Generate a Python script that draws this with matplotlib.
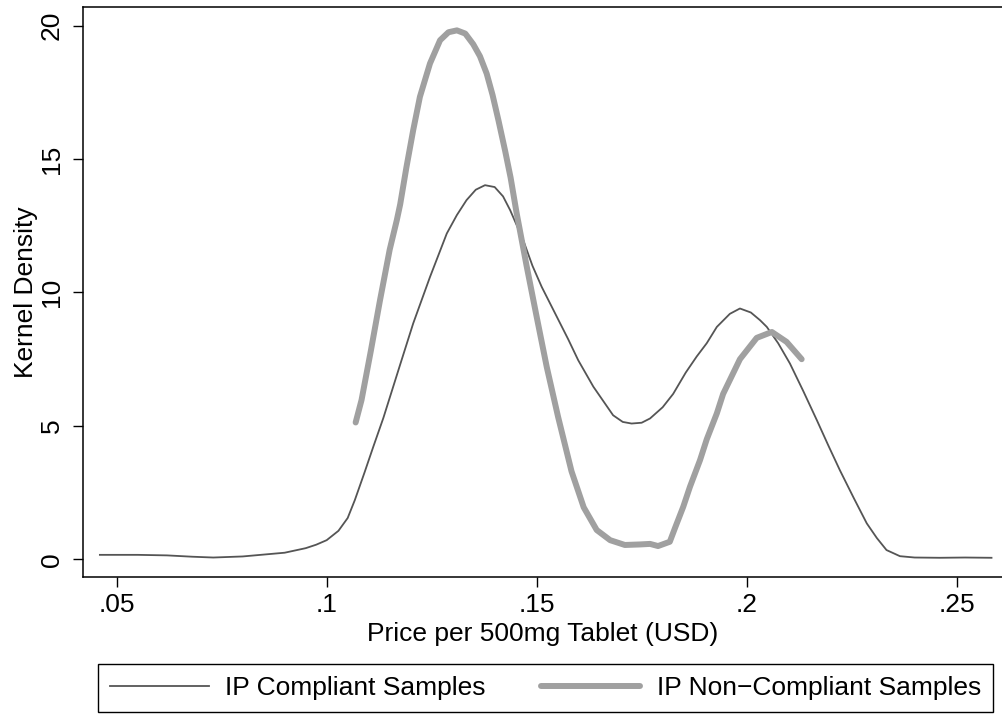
import numpy as np
import matplotlib
matplotlib.use('Agg')
import matplotlib.pyplot as plt

plt.rcParams['font.family'] = ['Liberation Sans', 'DejaVu Sans']
plt.rcParams['font.size'] = 19

# kernel density, IP compliant samples
comp_x = [0.046, 0.055, 0.062, 0.068, 0.073, 0.080, 0.0857, 0.090, 0.095, 0.0975,
          0.100, 0.1028, 0.1050, 0.1067, 0.1090, 0.1111, 0.1135, 0.1159, 0.1175, 0.1206,
          0.1246, 0.1286, 0.1310, 0.1333, 0.1355, 0.1377, 0.1400, 0.1420, 0.1437, 0.1468,
          0.1490, 0.1512, 0.1548, 0.1575, 0.1599, 0.1635, 0.1682, 0.1705, 0.1726, 0.1750,
          0.1770, 0.1800, 0.1825, 0.1855, 0.1881, 0.1905, 0.1929, 0.1960, 0.1984, 0.2010,
          0.2032, 0.2048, 0.2075, 0.2103, 0.2135, 0.2167, 0.2195, 0.2222, 0.2255, 0.2286,
          0.2310, 0.2333, 0.2365, 0.2400, 0.2460, 0.2520, 0.2583]
comp_y = [0.17, 0.17, 0.15, 0.10, 0.07, 0.11, 0.19, 0.25, 0.42, 0.55,
          0.72, 1.07, 1.55, 2.22, 3.25, 4.22, 5.3, 6.5, 7.3, 8.84,
          10.58, 12.21, 12.9, 13.46, 13.85, 14.02, 13.95, 13.6, 13.08, 11.96,
          11.0, 10.21, 9.09, 8.25, 7.46, 6.47, 5.40, 5.15, 5.09, 5.12,
          5.28, 5.7, 6.2, 7.0, 7.6, 8.1, 8.71, 9.2, 9.40, 9.25,
          8.96, 8.71, 8.1, 7.34, 6.3, 5.22, 4.25, 3.34, 2.3, 1.35,
          0.8, 0.35, 0.12, 0.07, 0.06, 0.07, 0.06]

# kernel density, IP non-compliant samples
noncomp_x = [0.1069, 0.1083, 0.1105, 0.1127, 0.1150, 0.1167, 0.1175, 0.1190, 0.1206, 0.1222,
             0.1246, 0.1270, 0.1290, 0.1310, 0.1330, 0.1349, 0.1365, 0.1381, 0.1395, 0.1409,
             0.1425, 0.1438, 0.1452, 0.1476, 0.1500, 0.1524, 0.1551, 0.1583, 0.1612, 0.1643,
             0.1675, 0.1710, 0.1746, 0.1770, 0.1789, 0.1817, 0.1830, 0.1849, 0.1865, 0.1889,
             0.1905, 0.1929, 0.1944, 0.1984, 0.2024, 0.2060, 0.2095, 0.2131]
noncomp_y = [5.13, 5.97, 7.8, 9.71, 11.6, 12.71, 13.3, 14.7, 16.08, 17.33,
             18.58, 19.45, 19.75, 19.82, 19.7, 19.3, 18.85, 18.2, 17.4, 16.45,
             15.3, 14.3, 13.0, 11.0, 9.09, 7.21, 5.34, 3.3, 1.95, 1.10,
             0.72, 0.54, 0.56, 0.58, 0.50, 0.66, 1.2, 1.97, 2.72, 3.72,
             4.5, 5.47, 6.2, 7.5, 8.3, 8.52, 8.15, 7.5]

xticks = [0.05, 0.10, 0.15, 0.20, 0.25]
xtick_labels = ['.05', '.1', '.15', '.2', '.25']
yticks = [0, 5, 10, 15, 20]

fig = plt.figure(figsize=(10.02, 7.15), dpi=100)
ax = fig.add_axes([0.0825, 0.193, 0.9175, 0.797])

ax.plot(comp_x, comp_y, color='#555555', lw=1.3, label='IP Compliant Samples')
ax.plot(noncomp_x, noncomp_y, color='#a0a0a0', lw=4.3, solid_capstyle='round',
        solid_joinstyle='round', label='IP Non\u2212Compliant Samples')

ax.set_xlim(0.0419, 0.2608)
ax.set_ylim(-0.66, 20.69)
ax.set_xticks(xticks)
ax.set_xticklabels(xtick_labels)
ax.set_yticks(yticks)
ax.tick_params(direction='out', length=7.2, width=1.0, color='black')
ax.tick_params(axis='x', pad=4)
ax.tick_params(axis='y', labelrotation=90, pad=6.5)
for lab in ax.get_yticklabels():
    lab.set_va('center')

ax.spines['right'].set_visible(False)
for side in ['left', 'bottom', 'top']:
    ax.spines[side].set_linewidth(1.1)

ax.set_xlabel('Price per 500mg Tablet (USD)', labelpad=4)
ax.set_ylabel('Kernel Density')
ax.yaxis.set_label_coords(-0.0486, 0.5)

fig.legend(loc='center', bbox_to_anchor=(545.5 / 1002, 1 - 688 / 715), ncol=2,
           frameon=True, fancybox=False, edgecolor='black', framealpha=1,
           handlelength=3.75, handletextpad=0.64, columnspacing=2.1,
           borderpad=0.45, borderaxespad=0)
leg = fig.legends[0]
leg.get_frame().set_linewidth(1.0)
leg._legend_box.sep = 0

fig.savefig('out.png', dpi=100)
